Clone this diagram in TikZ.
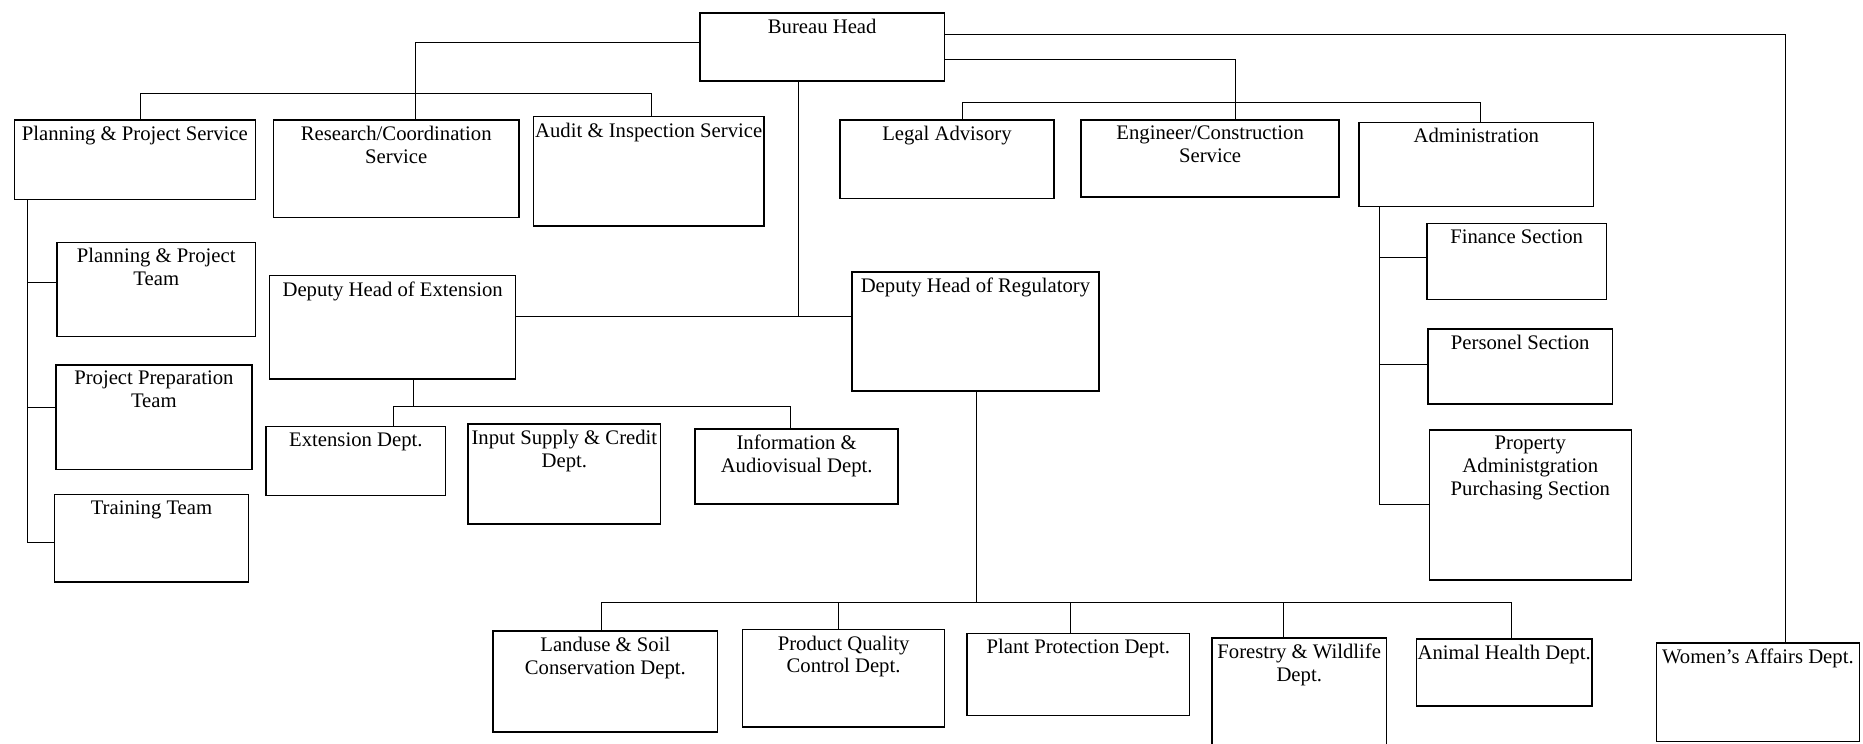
\documentclass[tikz,border=0pt]{standalone}
\usepackage{fontspec}
\setmainfont{Liberation Serif}
\usetikzlibrary{fit}
\begin{document}
\begin{tikzpicture}[x=0.5941pt,y=-0.5941pt,
  box/.style={draw, line width=0.75pt, inner sep=0pt},
  lbl/.style={anchor=north, inner sep=0pt, align=center,
    font=\fontsize{10.35}{11.3}\selectfont},
  link/.style={line width=0.5pt}]
\useasboundingbox (0,0) rectangle (1568,626);
\fill[white] (0,0) rectangle (1568,626);

% \orgbox{name}{x1}{y1}{x2}{y2}{text}: framed unit with its title near the top
\newcommand\orgbox[6]{%
  \node[box, fit={(#2,#3) (#4,#5)}] (#1) {};
  \node[lbl] (#1-t) at ([yshift=-3.3pt]#1.north) {#6};}

% top level
\orgbox{bh}{589}{11}{795}{68}{Bureau Head}
\orgbox{pps}{12}{101}{215}{168}{Planning \& Project Service}
\orgbox{rcs}{230}{101}{437}{183}{Research/Coordination\\Service}
\orgbox{ais}{449}{98}{643}{190}{Audit \& Inspection Service}
\orgbox{leg}{707}{101}{887}{167}{Legal Advisory}
\orgbox{ecs}{910}{101}{1127}{166}{Engineer/Construction\\Service}
\orgbox{adm}{1144}{103}{1341}{174}{Administration}

% administration sections
\orgbox{fin}{1201}{188}{1352}{252}{Finance Section}
\orgbox{per}{1202}{277}{1357}{340}{Personel Section}
\orgbox{pap}{1203}{362}{1373}{488}{Property\\Administgration\\Purchasing Section}

% planning teams
\orgbox{ppt}{48}{204}{215}{283}{Planning \& Project\\Team}
\orgbox{ppr}{47}{307}{212}{395}{Project Preparation\\Team}
\orgbox{trn}{46}{416}{209}{490}{Training Team}

% deputies
\orgbox{dhe}{227}{232}{434}{319}{Deputy Head of Extension}
\orgbox{dhr}{717}{229}{925}{329}{Deputy Head of Regulatory}

% extension departments
\orgbox{ext}{224}{359}{375}{417}{Extension Dept.}
\orgbox{isc}{394}{357}{556}{441}{Input Supply \& Credit\\Dept.}
\orgbox{inf}{585}{361}{756}{424}{Information \&\\Audiovisual Dept.}

% regulatory departments
\orgbox{lsc}{415}{531}{604}{616}{Landuse \& Soil\\Conservation Dept.}
\orgbox{pqc}{625}{530}{795}{612}{Product Quality\\Control Dept.}
\orgbox{ppd}{814}{533}{1001}{602}{Plant Protection Dept.}
\orgbox{fwd}{1020}{537}{1167}{640}{Forestry \& Wildlife\\Dept.}
\orgbox{ahd}{1192}{538}{1340}{594}{Animal Health Dept.}
\orgbox{waf}{1394}{541}{1565}{624}{Women's Affairs Dept.}

% junction points of the connector bars
\coordinate (svc) at (350,79);
\coordinate (dep) at (672,266);
\coordinate (sup) at (1246,86);
\coordinate (atr) at (1161,425);
\coordinate (ptr) at (23,457);
\coordinate (xbar) at (348,342);
\coordinate (rbar) at (822,507);

% bureau head links
\draw[link] (bh.west |- 0,36) -| (350,0 |- rcs.north);
\draw[link] (118,0 |- pps.north) |- (svc) -| (548,0 |- ais.north);
\draw[link] (672,0 |- bh.south) -- (dep);
\draw[link] (dhe.east |- dep) -- (dhr.west |- dep);
\draw[link] (bh.east |- 0,29) -| (1503,0 |- waf.north);
\draw[link] (bh.east |- 0,50) -| (1040,0 |- ecs.north);
\draw[link] (810,0 |- leg.north) |- (sup) -- (sup |- adm.north);

% administration trunk
\draw[link] (1161,0 |- adm.south) -- (atr);
\draw[link] (atr |- 0,217) -- (fin.west |- 0,217);
\draw[link] (atr |- 0,307) -- (per.west |- 0,307);
\draw[link] (atr) -- (pap.west |- atr);

% planning trunk
\draw[link] (23,0 |- pps.south) -- (ptr);
\draw[link] (ptr |- 0,238) -- (ppt.west |- 0,238);
\draw[link] (ptr |- 0,343) -- (ppr.west |- 0,343);
\draw[link] (ptr) -- (trn.west |- ptr);

% extension bar
\draw[link] (348,0 |- dhe.south) -- (xbar);
\draw[link] (331,0 |- ext.north) |- (xbar) -| (665,0 |- inf.north);

% regulatory bar
\draw[link] (822,0 |- dhr.south) -- (rbar);
\draw[link] (506,0 |- lsc.north) |- (rbar) -| (1272,0 |- ahd.north);
\draw[link] (706,0 |- pqc.north) -- (rbar -| 706,0);
\draw[link] (901,0 |- ppd.north) -- (rbar -| 901,0);
\draw[link] (1080,0 |- fwd.north) -- (rbar -| 1080,0);
\end{tikzpicture}
\end{document}
